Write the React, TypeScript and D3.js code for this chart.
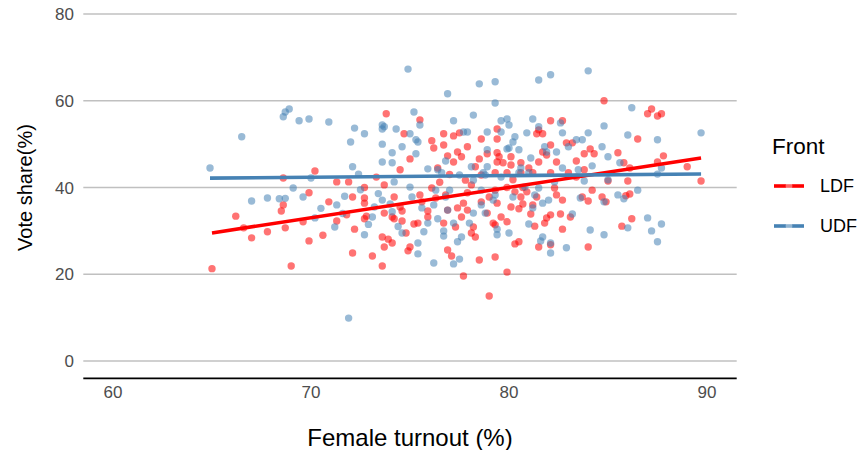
import React from "react";
import * as d3 from "d3";

// ---- data ----
const xTicks = [60, 70, 80, 90];
const yTicks = [0, 20, 40, 60, 80];
const fronts = ["LDF", "UDF"];
const frontColors = ["#FF0000", "#4682B4"];

const ldfPoints: [number, number][] = [
  [65.0,21.3],[66.6,30.7],[67.0,28.4],[67.8,29.8],[68.5,34.6],[68.6,36.0],[68.7,30.7],[69.0,21.9],[68.6,42.2],
  [69.9,38.8],[69.6,32.1],[69.9,27.7],[70.2,43.8],
  [70.9,36.7],[71.3,32.3],[71.8,33.7],[72.1,37.8],[72.2,30.4],[72.1,24.9],[72.7,32.8],[72.8,33.4],[72.7,37.6],
  [73.1,24.2],[73.6,21.9],[73.6,28.6],[73.7,26.3],[73.9,28.1],[74.1,27.2],[73.7,34.1],[74.1,33.2],[74.2,32.8],
  [74.6,32.3],[74.6,34.6],[74.8,29.5],[74.9,25.4],[75.0,26.3],[75.2,31.6],[75.4,31.8],[75.5,38.3],[75.9,33.2],
  [75.9,34.6],[74.2,37.8],[74.5,35.5],[72.7,36.4],
  [71.3,41.3],[71.9,41.3],[73.3,42.4],[73.7,40.6],[72.7,40.0],
  [73.8,57.0],[75.5,55.6],[74.7,52.4],[75.0,46.6],[74.5,44.1],[76.1,50.8],[76.2,49.1],
  [77.7,19.6],[79.0,15.0],[79.9,20.5],[78.5,23.3],[79.3,24.0],[76.9,25.6],[77.1,24.2],[80.3,27.0],[80.5,27.5],
  [81.5,26.3],[82.1,26.8],[82.7,30.4],[81.3,31.1],[81.8,31.8],[81.9,33.0],[82.1,33.7],[82.6,33.9],[83.1,33.2],
  [81.1,33.9],[76.7,31.8],[78.1,29.5],[78.2,30.9],[78.3,28.6],[79.2,31.8],[79.3,31.4],[79.9,32.1],[78.9,34.1],
  [79.6,33.2],[80.1,35.5],[80.5,35.1],[80.7,36.2],[81.2,36.0],[77.4,35.3],[77.6,33.2],[77.9,34.8],[77.7,36.4],
  [82.4,38.3],[82.7,37.1],
  [84.0,26.3],[85.7,31.1],[86.2,32.8],[84.2,39.4],[84.0,36.9],[83.7,37.8],[84.7,37.8],[84.9,36.7],[85.9,38.1],[86.1,38.5],
  [84.8,60.0],[87.2,58.1],[87.0,57.0],[87.5,56.5],[87.7,57.0],[86.5,51.2],[84.1,48.9],[84.3,47.8],[83.8,47.8],
  [85.5,48.0],[85.8,45.7],[86.1,44.5],[87.8,47.3],[87.5,45.9],[89.0,44.8],[89.7,41.5],[85.0,41.5],[86.0,41.5],
  [83.4,46.1],[83.8,44.1],
  [76.7,52.4],[77.2,51.9],[77.5,52.6],[76.7,49.8],[76.9,47.3],[77.4,48.2],[77.6,47.1],[77.2,45.9],[77.9,49.4],
  [78.6,51.2],[79.4,53.5],[79.4,51.2],[78.9,47.8],[79.4,48.0],[79.5,47.1],[78.5,46.6],[79.4,45.9],[79.7,45.7],
  [80.1,45.2],[78.3,44.8],[82.1,55.4],[82.7,55.4],[81.4,52.4],[81.7,52.4],[81.5,53.3],[82.9,50.3],[83.2,50.3],
  [82.1,49.8],[81.7,48.2],[81.9,47.5],[82.4,45.9],[81.5,45.9],[81.0,44.5],[81.2,43.4],[80.6,43.4],[79.9,43.4],
  [77.8,41.7],[78.1,40.6],[78.6,42.9],[76.4,44.5],
  [75.6,36.7],[76.1,39.9],[76.3,37.6],[76.8,38.3],[76.9,34.8],[77.9,38.8],[78.6,36.7],[79.0,37.8],[79.3,39.4],
  [79.4,36.4],[79.9,40.0],[80.3,39.0],[80.7,40.0],[80.6,37.8],[80.9,39.0],[81.4,37.8],[82.1,43.4],[82.3,39.9],
  [83.0,43.4],[77.3,30.9],[80.1,47.1],[79.3,43.4],[83.4,42.4],[80.6,45.7],
  [66.2,33.4],[70.6,29.0],[76.5,41.2],[77.0,43.0],[80.2,41.8],
];

const udfPoints: [number, number][] = [
  [64.9,44.5],[66.5,51.7],[68.6,56.3],[68.7,57.4],[68.9,58.1],[69.4,55.4],[69.9,55.8],[70.9,55.1],[74.9,67.3],
  [75.2,57.4],[75.5,54.4],[72.2,53.7],[72.7,52.4],[72.0,50.5],[73.6,54.4],[73.7,54.0],[73.6,53.5],[74.3,53.5],
  [75.0,52.4],[73.6,50.0],[74.6,49.4],[75.3,51.0],[75.4,50.5],[74.1,48.0],[75.3,47.8],[73.6,45.9],[74.1,45.7],
  [72.1,44.8],[72.4,43.1],[75.9,44.3],[70.0,42.2],[69.1,39.9],
  [67.0,36.9],[67.8,37.6],[68.4,37.4],[68.7,37.5],
  [69.6,37.8],[70.2,33.0],[71.2,30.9],[71.3,36.0],[72.7,29.1],[73.1,33.2],[73.2,35.5],[73.6,37.1],[74.1,34.4],
  [74.6,29.5],[75.4,27.2],[75.4,24.7],[76.2,22.6],[71.9,9.9],[75.1,37.8],[75.6,35.3],[75.9,31.8],[71.7,38.0],[72.5,39.5],
  [70.5,35.2],[71.6,34.0],[72.9,31.5],[73.4,38.6],[74.0,36.2],[75.7,29.8],[74.4,31.0],
  [77.2,22.4],[77.5,23.5],[77.4,27.5],[77.6,28.6],[76.7,28.8],[76.7,30.0],[77.2,31.8],[78.0,31.8],[78.2,34.1],
  [79.4,29.1],[79.4,30.4],[80.0,29.5],[81.0,31.6],[81.6,27.7],[81.7,28.6],[82.1,27.2],[82.1,24.9],[82.9,26.1],
  [83.2,33.9],[76.4,32.8],[78.6,36.0],[79.2,37.1],[81.3,38.3],[83.6,37.6],[76.8,37.8],[76.2,36.0],
  [84.1,30.2],[84.8,29.1],[85.5,38.3],[85.8,37.4],[84.8,36.7],[86.0,30.7],[87.0,33.0],[87.2,30.0],[87.7,31.6],
  [87.5,27.5],[86.5,39.4],
  [84.0,66.9],[86.2,58.4],[84.8,54.2],[84.0,52.6],[83.7,51.0],[86.0,52.1],[87.5,51.0],[89.7,52.6],[84.7,49.4],
  [85.0,47.1],[85.6,45.7],[84.2,45.0],[83.5,44.1],[87.7,44.5],[87.5,43.1],[83.8,41.5],
  [76.9,61.6],[78.5,63.9],[79.3,64.4],[79.3,59.5],[81.5,64.8],[82.1,66.0],[77.2,55.4],[78.2,56.7],[79.6,55.4],
  [79.9,55.8],[80.0,54.4],[81.2,55.8],[81.5,54.0],[82.6,54.9],[82.7,52.6],[80.9,52.6],[78.9,52.8],[79.6,52.8],
  [80.3,51.7],[80.2,50.5],[77.7,52.8],[77.9,52.8],[81.8,49.4],[81.9,48.2],[82.4,48.2],[80.0,49.1],[81.1,46.8],
  [82.7,44.5],[78.1,44.8],[78.9,44.8],[78.9,48.7],[79.9,48.9],[80.5,48.7],[76.4,44.1],[76.8,46.1],[76.6,43.4],
  [80.6,44.5],[79.6,42.4],[78.7,43.4],[83.4,51.0],
  [83.0,49.4],[85.0,41.8],[81.7,36.4],[81.2,35.3],[82.0,37.1],[80.5,43.4],[79.3,38.3],[78.8,34.1],[76.9,34.8],
  [75.0,40.1],[77.5,42.9],[78.2,41.7],[78.8,42.9],[81.0,43.4],[81.5,39.9],[82.3,41.3],[74.2,41.3],[76.3,39.4],
  [77.0,39.4],[78.6,39.4],[80.2,37.8],[80.8,40.1],
];

const seriesPoints = [ldfPoints, udfPoints];

function linearFit(pts: [number, number][]) {
  const mx = d3.mean(pts, (p) => p[0]) as number;
  const my = d3.mean(pts, (p) => p[1]) as number;
  let sxy = 0, sxx = 0;
  pts.forEach(([x, y]) => { sxy += (x - mx) * (y - my); sxx += (x - mx) * (x - mx); });
  const b = sxy / sxx;
  const a = my - b * mx;
  const [x0, x1] = d3.extent(pts, (p) => p[0]) as [number, number];
  return [[x0, a + b * x0], [x1, a + b * x1]] as [number, number][];
}

const FONT = "'Liberation Sans', Arial, Helvetica, sans-serif";

export default function App() {
  const W = 860, H = 450;
  const x = d3.scaleLinear().domain([58.5, 91.5]).range([83.3, 736.7]);
  const y = d3.scaleLinear().domain([-4, 84]).range([378.4, -3.35]);
  const line = d3.line<[number, number]>().x((d) => x(d[0])).y((d) => y(d[1]));
  const [px0, px1] = x.range();

  return (
    <svg width={W} height={H} style={{ position: "absolute", left: 0, top: 0, display: "block", background: "#fff" }}
      fontFamily={FONT}>
      {yTicks.map((t) => (
        <line key={"g" + t} x1={px0} x2={px1} y1={y(t)} y2={y(t)} stroke="#c0c0c0" strokeWidth={1.5} />
      ))}
      <line x1={px0} x2={px1} y1={378.4} y2={378.4} stroke="#000" strokeWidth={1.6} />
      {yTicks.map((t) => (
        <text key={"yt" + t} x={74} y={y(t)} dy="0.36em" textAnchor="end" fontSize={17} fill="#4d4d4d">{t}</text>
      ))}
      {xTicks.map((t) => (
        <text key={"xt" + t} x={x(t)} y={398} textAnchor="middle" fontSize={17} fill="#4d4d4d">{t}</text>
      ))}
      <text x={(px0 + px1) / 2} y={446} textAnchor="middle" fontSize={24} fill="#000">Female turnout (%)</text>
      <text transform={`translate(32,${(y(-4) + y(84)) / 2}) rotate(-90)`} textAnchor="middle" fontSize={20} fill="#000">Vote share(%)</text>

      {seriesPoints.map((pts, i) => (
        <g key={"s" + i}>
          {pts.map((p, j) => (
            <circle key={j} cx={x(p[0])} cy={y(p[1])} r={3.7} fill={frontColors[i]} fillOpacity={0.55} />
          ))}
        </g>
      ))}
      {seriesPoints.map((pts, i) => (
        <path key={"l" + i} d={line(linearFit(pts)) || ""} fill="none" stroke={frontColors[i]} strokeWidth={3.6} />
      ))}

      <text x={772} y={154} fontSize={22.5} fill="#000">Front</text>
      {fronts.map((f, i) => {
        const ky = 186 + i * 40;
        return (
          <g key={"lg" + f}>
            <line x1={774} x2={804} y1={ky} y2={ky} stroke={frontColors[i]} strokeWidth={3.6} />
            <circle cx={789} cy={ky} r={3.4} fill="#fff" fillOpacity={0.4} />
            <text x={820} y={ky} dy="0.36em" fontSize={18} fill="#000">{f}</text>
          </g>
        );
      })}
    </svg>
  );
}
